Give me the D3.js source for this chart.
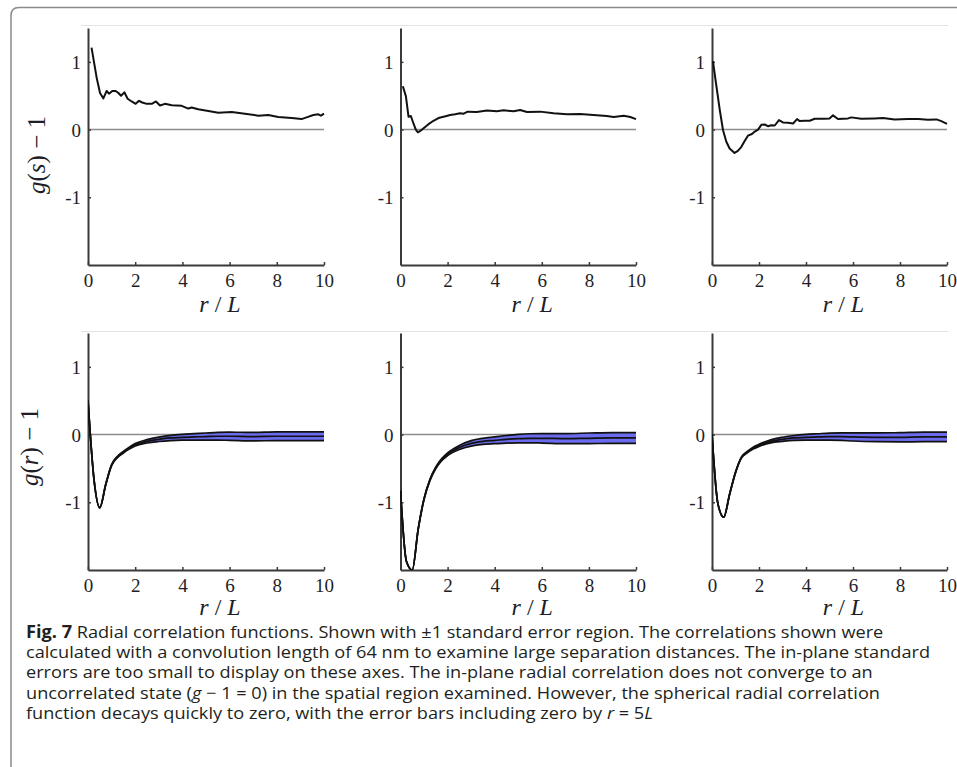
<!DOCTYPE html>
<html>
<head>
<meta charset="utf-8">
<script src="https://cdn.jsdelivr.net/npm/d3@7"></script>
<style>
    body { margin: 0; background: #fff; }
    svg { display: block; }
</style>
</head>
<body>
<svg id="fig" width="957" height="767"></svg>
<script>

// axes
var xDomain = [0, 10];
var yDomain = [-2, 1.5];
var xTicks = [0, 2, 4, 6, 8, 10];
var yTicks = [1, 0, -1];
var yTickLabels = ["1", "0", "-1"];

// in-plane g(s) - 1, top row
var s1R = [0.15,0.37,0.51,0.65,0.79,0.89,1.03,1.17,1.29,1.40,1.54,1.68,1.85,2.02,2.16,2.30,2.49,2.70,2.88,3.05,3.26,3.55,3.97,4.25,4.39,4.67,5.10,5.52,6.09,6.65,7.22,7.64,8.06,8.63,9.05,9.26,9.55,9.76,9.87,10.0];
var s1G = [1.21,0.76,0.54,0.46,0.57,0.53,0.57,0.57,0.54,0.50,0.55,0.455,0.415,0.38,0.425,0.40,0.38,0.38,0.415,0.355,0.38,0.36,0.35,0.31,0.325,0.30,0.275,0.25,0.26,0.235,0.205,0.215,0.185,0.17,0.155,0.18,0.215,0.225,0.205,0.235];

var s2R = [0.10,0.23,0.34,0.44,0.55,0.65,0.74,0.84,0.98,1.19,1.40,1.61,1.83,2.11,2.32,2.53,2.68,2.85,3.24,3.67,4.09,4.38,4.80,5.08,5.37,5.93,6.50,7.07,7.63,8.19,8.76,9.05,9.48,9.76,10.0];
var s2G = [0.64,0.49,0.19,0.20,0.09,0.0,-0.04,-0.02,0.02,0.08,0.13,0.17,0.19,0.215,0.225,0.24,0.235,0.265,0.26,0.28,0.27,0.285,0.27,0.29,0.26,0.265,0.24,0.225,0.23,0.215,0.2,0.185,0.205,0.185,0.155];

var s3R = [0.04,0.18,0.33,0.47,0.61,0.75,0.96,1.10,1.25,1.39,1.53,1.70,1.82,1.96,2.10,2.24,2.38,2.52,2.67,2.85,3.02,3.23,3.45,3.62,3.73,3.94,4.16,4.37,4.79,5.00,5.15,5.36,5.79,5.93,6.35,6.92,7.28,7.77,8.34,8.77,9.19,9.55,9.76,10.0];
var s3G = [1.01,0.66,0.29,-0.01,-0.18,-0.28,-0.345,-0.315,-0.255,-0.17,-0.09,-0.065,-0.03,0.0,0.07,0.075,0.05,0.065,0.06,0.14,0.105,0.10,0.09,0.155,0.125,0.13,0.13,0.16,0.16,0.165,0.21,0.155,0.165,0.18,0.16,0.165,0.17,0.15,0.155,0.155,0.145,0.15,0.125,0.085];

// spherical g(r) - 1, bottom row, mean and +-1 standard error
var rGrid = [0,0.25,0.5,0.75,1,1.25,1.5,1.75,2,2.5,3,3.5,4,4.5,5,5.5,6,7,8,9,10];

var p1Mean = [0.5,-0.65,-1.08,-0.74,-0.45,-0.33,-0.26,-0.2,-0.15,-0.1,-0.07,-0.05,-0.04,-0.035,-0.03,-0.025,-0.025,-0.03,-0.025,-0.025,-0.025];
var p1Hi   = [0.5,-0.65,-1.075,-0.735,-0.442,-0.32,-0.248,-0.185,-0.132,-0.075,-0.038,-0.012,0.003,0.013,0.023,0.032,0.035,0.033,0.04,0.04,0.04];
var p1Lo   = [0.5,-0.65,-1.085,-0.745,-0.458,-0.34,-0.272,-0.215,-0.168,-0.125,-0.102,-0.088,-0.083,-0.083,-0.083,-0.082,-0.085,-0.093,-0.09,-0.09,-0.09];

var p2Mean = [-0.83,-1.87,-2.0,-1.4,-0.95,-0.67,-0.49,-0.37,-0.29,-0.19,-0.13,-0.1,-0.085,-0.07,-0.06,-0.055,-0.055,-0.06,-0.055,-0.05,-0.05];
var p2Hi   = [-0.83,-1.87,-2.0,-1.395,-0.942,-0.66,-0.478,-0.355,-0.27,-0.16,-0.09,-0.055,-0.035,-0.014,0.002,0.012,0.015,0.015,0.023,0.03,0.03];
var p2Lo   = [-0.83,-1.87,-2.0,-1.405,-0.958,-0.68,-0.502,-0.385,-0.31,-0.22,-0.17,-0.145,-0.135,-0.126,-0.122,-0.122,-0.125,-0.135,-0.133,-0.13,-0.13];

var p3Mean = [0,-1.02,-1.22,-0.88,-0.56,-0.34,-0.26,-0.2,-0.16,-0.1,-0.07,-0.05,-0.04,-0.035,-0.03,-0.03,-0.035,-0.04,-0.04,-0.035,-0.035];
var p3Hi   = [0,-1.02,-1.22,-0.876,-0.554,-0.332,-0.25,-0.187,-0.144,-0.078,-0.04,-0.014,0.002,0.012,0.022,0.026,0.025,0.025,0.028,0.035,0.035];
var p3Lo   = [0,-1.02,-1.22,-0.884,-0.566,-0.348,-0.27,-0.213,-0.176,-0.122,-0.1,-0.086,-0.082,-0.082,-0.082,-0.086,-0.095,-0.105,-0.108,-0.105,-0.105];

var captionLines = [
    ["Radial correlation functions. Shown with \u00b11 standard error region. The correlations shown were"],
    ["calculated with a convolution length of 64 nm to examine large separation distances. The in-plane standard"],
    ["errors are too small to display on these axes. The in-plane radial correlation does not converge to an"],
    ["uncorrelated state (", "g", " \u2212 1 = 0) in the spatial region examined. However, the spherical radial correlation"],
    ["function decays quickly to zero, with the error bars including zero by ", "r", " = 5", "L"]
];


var chart = {

    svg: null,

    serif: "'Liberation Serif', 'DejaVu Serif', serif",

    rows: [
        { top: 28, bottom: 265, tickBase: 287, titleBase: 312, yLabel: ["g", "(", "s", ") \u2212 1"], yLabelX: 45, yLabelY: 155 },
        { top: 333, bottom: 570, tickBase: 592, titleBase: 615, yLabel: ["g", "(", "r", ") \u2212 1"], yLabelX: 38, yLabelY: 447 }
    ],

    cols: [
        { left: 88, right: 324 },
        { left: 400.5, right: 636 },
        { left: 712, right: 947 }
    ],

    index: function () {
        chart.svg = d3.select("#fig");
        chart.drawFrame();

        var top = [[s1R, s1G], [s2R, s2G], [s3R, s3G]];
        var bottom = [[p1Mean, p1Lo, p1Hi], [p2Mean, p2Lo, p2Hi], [p3Mean, p3Lo, p3Hi]];

        for (var c = 0; c < 3; c++) {
            var pTop = chart.drawPanel(0, c);
            chart.drawLine(pTop, top[c][0], top[c][1]);

            var pBot = chart.drawPanel(1, c);
            chart.drawBand(pBot, bottom[c][0], bottom[c][1], bottom[c][2]);
        }

        chart.drawCaption();
    },

    drawFrame: function () {
        // rounded box of the figure, cut off at right and bottom
        chart.svg.append("path")
            .attr("d", "M957,7.5 H19 Q11,7.5 11,15.5 V767")
            .attr("fill", "none")
            .attr("stroke", "#8a8a8a")
            .attr("stroke-width", 1.5);

        [25, 331].forEach(function (y) {
            chart.svg.append("line")
                .attr("x1", 81).attr("x2", 948)
                .attr("y1", y + 0.5).attr("y2", y + 0.5)
                .attr("stroke", "#e4e4e4")
                .attr("stroke-width", 1);
        });
    },

    drawPanel: function (r, c) {
        var row = chart.rows[r], col = chart.cols[c];
        var x = d3.scaleLinear().domain(xDomain).range([col.left, col.right]);
        var y = d3.scaleLinear().domain(yDomain).range([row.bottom, row.top]);
        var g = chart.svg.append("g");
        var clipId = "clip" + r + c;

        g.append("clipPath").attr("id", clipId)
            .append("rect")
            .attr("x", col.left).attr("y", row.top - 2)
            .attr("width", col.right - col.left + 2)
            .attr("height", row.bottom - row.top + 2);

        // zero reference line
        g.append("line")
            .attr("x1", x(0)).attr("x2", x(10))
            .attr("y1", y(0)).attr("y2", y(0))
            .attr("stroke", "#8c8c8c")
            .attr("stroke-width", 1.6);

        var xAxis = g.append("g")
            .attr("transform", "translate(0," + row.bottom + ")")
            .call(d3.axisBottom(x).tickValues(xTicks).tickSizeInner(-3).tickSizeOuter(0).tickPadding(9));

        var yAxis = g.append("g")
            .attr("transform", "translate(" + col.left + ",0)")
            .call(d3.axisLeft(y).tickValues(yTicks).tickSizeInner(-3).tickSizeOuter(0).tickPadding(7)
                .tickFormat(function (d, i) { return yTickLabels[i]; }));

        [xAxis, yAxis].forEach(function (a) {
            a.select(".domain").attr("stroke", "#3a3a3a").attr("stroke-width", 2);
            a.selectAll(".tick line").attr("stroke", "#3a3a3a").attr("stroke-width", 1.5);
            a.selectAll(".tick text")
                .attr("fill", "#1e1e28")
                .style("font-family", chart.serif)
                .style("font-size", "19px");
        });
        yAxis.selectAll(".tick text").attr("dy", "0.34em");

        // x title  r / L
        var t = g.append("text")
            .attr("x", (col.left + col.right) / 2 + 14)
            .attr("y", row.titleBase)
            .attr("text-anchor", "middle")
            .attr("fill", "#1e1e28")
            .style("font-family", chart.serif)
            .style("font-size", "24px");
        t.append("tspan").attr("font-style", "italic").text("r");
        t.append("tspan").text(" / ");
        t.append("tspan").attr("font-style", "italic").text("L");

        if (c === 0) {
            var yl = g.append("text")
                .attr("transform", "translate(" + row.yLabelX + "," + row.yLabelY + ") rotate(-90)")
                .attr("text-anchor", "middle")
                .attr("fill", "#1e1e28")
                .style("font-family", chart.serif)
                .style("font-size", "25px");
            row.yLabel.forEach(function (s, i) {
                yl.append("tspan").attr("font-style", i % 2 === 0 ? "italic" : "normal").text(s);
            });
        }

        return { g: g, x: x, y: y, clip: "url(#" + clipId + ")" };
    },

    drawLine: function (p, rs, gs) {
        var pts = rs.map(function (d, i) { return [d, gs[i]]; });
        p.g.append("path")
            .datum(pts)
            .attr("clip-path", p.clip)
            .attr("fill", "none")
            .attr("stroke", "#111")
            .attr("stroke-width", 2)
            .attr("stroke-linejoin", "round")
            .attr("d", d3.line()
                .x(function (d) { return p.x(d[0]); })
                .y(function (d) { return p.y(d[1]); }));
    },

    drawBand: function (p, mean, lo, hi) {
        var idx = d3.range(rGrid.length);
        var curve = d3.curveMonotoneX;

        p.g.append("path")
            .datum(idx)
            .attr("clip-path", p.clip)
            .attr("fill", "#6b6bee")
            .attr("d", d3.area().curve(curve)
                .x(function (i) { return p.x(rGrid[i]); })
                .y0(function (i) { return p.y(lo[i]); })
                .y1(function (i) { return p.y(hi[i]); }));

        [hi, lo, mean].forEach(function (arr) {
            p.g.append("path")
                .datum(idx)
                .attr("clip-path", p.clip)
                .attr("fill", "none")
                .attr("stroke", "#111")
                .attr("stroke-width", 1.7)
                .attr("d", d3.line().curve(curve)
                    .x(function (i) { return p.x(rGrid[i]); })
                    .y(function (i) { return p.y(arr[i]); }));
        });
    },

    drawCaption: function () {
        var base = [638, 658, 678, 699, 719];
        var texts = [];

        captionLines.forEach(function (parts, li) {
            var t = chart.svg.append("text")
                .attr("x", 26)
                .attr("y", base[li])
                .attr("fill", "#231f20")
                .style("font-family", "'Open Sans', 'Noto Sans', sans-serif")
                .style("font-size", "17px");
            if (li === 0) {
                t.append("tspan").attr("font-weight", "bold").text("Fig. 7");
                t.append("tspan").text("  ");
            }
            parts.forEach(function (s, i) {
                t.append("tspan").attr("font-style", i % 2 === 1 ? "italic" : "normal").text(s);
            });
            texts.push(t);
        });

        // the caption face is condensed: squeeze every line by the factor that
        // makes the longest line end at the right place
        var k = (930 - 26) / texts[1].node().getComputedTextLength();
        texts.forEach(function (t) {
            var w = t.node().getComputedTextLength();
            t.attr("textLength", w * k).attr("lengthAdjust", "spacingAndGlyphs");
        });
    }
};

chart.index();

</script>
</body>
</html>
